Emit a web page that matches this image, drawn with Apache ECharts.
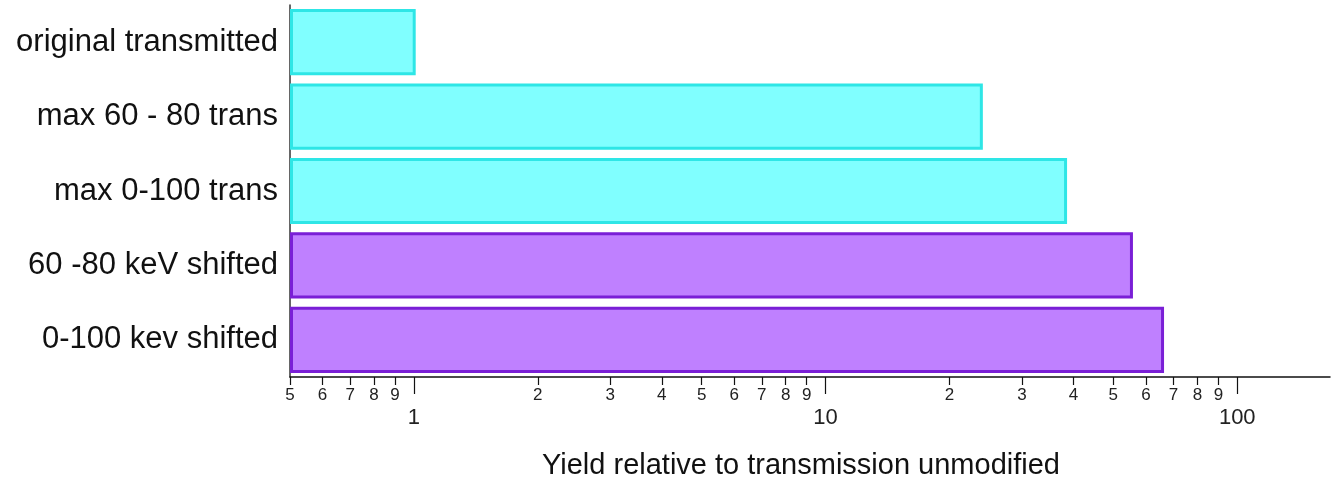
<!DOCTYPE html>
<html>
<head>
<meta charset="utf-8">
<script src="https://cdn.jsdelivr.net/npm/echarts@6/dist/echarts.min.js"></script>
<style>html,body{margin:0;padding:0;background:#fff}#c{width:1333px;height:480px}</style>
</head>
<body>
<div id="c"></div>
<script>
const categories = ['original transmitted', 'max 60 - 80 trans', 'max 0-100 trans', '60 -80 keV shifted', '0-100 kev shifted'];
const values = [1.01, 24.1, 38.6, 55.8, 66.4];
const groups = ['trans', 'trans', 'trans', 'shifted', 'shifted'];
const minorTickValues = [5e-1, 6e-1, 7e-1, 8e-1, 9e-1, 2, 3, 4, 5, 6, 7, 8, 9, 20, 30, 40, 50, 60, 70, 80, 90];
const majorTickValues = [1, 10, 100];
const axisMin = 0.5, axisMax = 168;

const styles = {
  trans: { color: '#80ffff', borderColor: '#2ee6e6', borderWidth: 3 },
  shifted: { color: '#bf80ff', borderColor: '#7a1fd6', borderWidth: 3 }
};

const chart = echarts.init(document.getElementById('c'));
const font = 'Liberation Sans, Arial, sans-serif';
chart.setOption({
  animation: false,
  grid: { left: 290, right: 3, top: 5, bottom: 103, containLabel: false, outerBoundsMode: 'none' },
  xAxis: [{
    type: 'log', logBase: 10, min: axisMin, max: axisMax, startValue: axisMin,
    position: 'bottom',
    axisLine: { show: true, lineStyle: { color: '#111', width: 1.5 } },
    axisTick: { show: true, customValues: minorTickValues, length: 8, lineStyle: { color: '#111', width: 1.2 } },
    axisLabel: {
      customValues: minorTickValues, margin: 10, fontSize: 17, color: '#222', fontFamily: font,
      hideOverlap: false,
      formatter: v => String(Math.round(v / Math.pow(10, Math.floor(Math.log10(v) + 1e-9))))
    },
    splitLine: { show: false }, minorTick: { show: false },
    name: 'Yield relative to transmission unmodified', nameLocation: 'middle', nameGap: 74,
    nameTextStyle: { fontSize: 29, color: '#111', fontFamily: font, padding: [0, 18, 0, 0] }
  }, {
    type: 'log', logBase: 10, min: axisMin, max: axisMax, startValue: axisMin,
    position: 'bottom', offset: 0,
    axisLine: { show: false },
    axisTick: { show: true, customValues: majorTickValues, length: 17, lineStyle: { color: '#111', width: 1.2 } },
    axisLabel: { customValues: majorTickValues, margin: 30, fontSize: 22, color: '#222', fontFamily: font, formatter: v => String(Math.round(v)) },
    splitLine: { show: false }
  }],
  yAxis: {
    type: 'category', data: categories, inverse: true,
    axisLine: { show: true, lineStyle: { color: '#333', width: 1.5 } },
    axisTick: { show: false },
    axisLabel: { fontSize: 31, color: '#111', fontFamily: font, margin: 12 }
  },
  series: [{
    type: 'bar', xAxisIndex: 0,
    barCategoryGap: '11%',
    data: values.map((v, i) => ({ value: v, itemStyle: styles[groups[i]] }))
  }]
});
</script>
</body>
</html>
